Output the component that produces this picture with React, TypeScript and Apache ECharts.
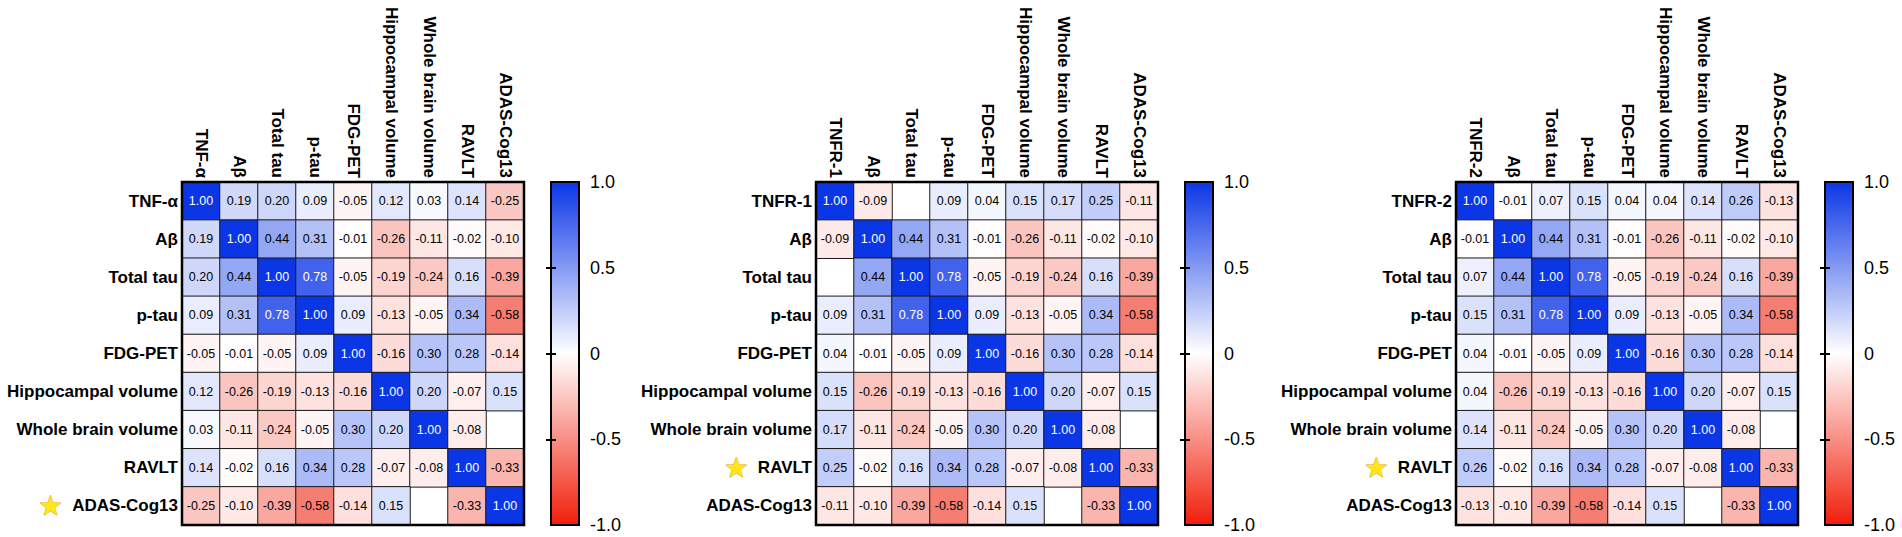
import React, { useEffect, useRef } from "react";
import * as echarts from "echarts";

const cytokines = ["TNF-α", "TNFR-1", "TNFR-2"];
const biomarkers = [
  "Aβ",
  "Total tau",
  "p-tau",
  "FDG-PET",
  "Hippocampal volume",
  "Whole brain volume",
  "RAVLT",
  "ADAS-Cog13",
];
// correlations among the biomarkers (shared by all three panels)
const biomarkerCorr: (number | null)[][] = [
  [1.0, 0.44, 0.31, -0.01, -0.26, -0.11, -0.02, -0.1],
  [0.44, 1.0, 0.78, -0.05, -0.19, -0.24, 0.16, -0.39],
  [0.31, 0.78, 1.0, 0.09, -0.13, -0.05, 0.34, -0.58],
  [-0.01, -0.05, 0.09, 1.0, -0.16, 0.3, 0.28, -0.14],
  [-0.26, -0.19, -0.13, -0.16, 1.0, 0.2, -0.07, 0.15],
  [-0.11, -0.24, -0.05, 0.3, 0.2, 1.0, -0.08, null],
  [-0.02, 0.16, 0.34, 0.28, -0.07, -0.08, 1.0, -0.33],
  [-0.1, -0.39, -0.58, -0.14, 0.15, null, -0.33, 1.0],
];
// correlations of each cytokine with itself + biomarkers
const tnfAlphaCorr: (number | null)[] = [1.0, 0.19, 0.2, 0.09, -0.05, 0.12, 0.03, 0.14, -0.25];
const tnfr1Corr: (number | null)[] = [1.0, -0.09, null, 0.09, 0.04, 0.15, 0.17, 0.25, -0.11];
const tnfr2Corr: (number | null)[] = [1.0, -0.01, 0.07, 0.15, 0.04, 0.04, 0.14, 0.26, -0.13];
const cytokineCorr = [tnfAlphaCorr, tnfr1Corr, tnfr2Corr];
const starredRow = ["ADAS-Cog13", "RAVLT", "RAVLT"];
const colorbarTicks = [-0.5, 0, 0.5];

const FONT = "'Liberation Sans', Arial, sans-serif";
const panelLeft = [182, 816, 1456];
const barLeft = [551, 1185, 1825];
const TOP = 182;
const W = 342;
const H = 343;
const BAR_W = 28;

function buildData(p: number) {
  const labels = [cytokines[p], ...biomarkers];
  const cy = cytokineCorr[p];
  const data: any[] = [];
  for (let i = 0; i < labels.length; i++) {
    for (let j = 0; j < labels.length; j++) {
      let v: number | null;
      if (i === 0) v = cy[j];
      else if (j === 0) v = cy[i];
      else v = biomarkerCorr[i - 1][j - 1];
      if (v === null) continue;
      data.push({
        value: [j, i, v],
        label: { color: v >= 0.6 ? "#ffffff" : "#000000" },
      });
    }
  }
  return { labels, data };
}

export default function App() {
  const ref = useRef<HTMLDivElement>(null);
  useEffect(() => {
    document.body.style.margin = "0";
    const chart = echarts.init(ref.current!, undefined, { renderer: "svg" });
    const grid: any[] = [];
    const xAxis: any[] = [];
    const yAxis: any[] = [];
    const series: any[] = [];
    const visualMap: any[] = [];
    for (let p = 0; p < 3; p++) {
      const { labels, data } = buildData(p);
      const star = starredRow[p];
      const gi = grid.length;
      grid.push({
        left: panelLeft[p],
        top: TOP,
        width: W,
        height: H,
        show: true,
        borderColor: "#000",
        borderWidth: 2.5,
        backgroundColor: "transparent",
        z: 5,
      });
      const xi = xAxis.length;
      xAxis.push({
        type: "category",
        gridIndex: gi,
        data: labels,
        position: "top",
        axisLine: { show: false },
        axisTick: { show: false },
        splitLine: { show: false },
        axisLabel: {
          rotate: 90,
          interval: 0,
          margin: 4,
          color: "#000",
          fontFamily: FONT,
          fontWeight: "bold",
          fontSize: 17,
        },
      });
      const yi = yAxis.length;
      yAxis.push({
        type: "category",
        gridIndex: gi,
        data: labels,
        inverse: true,
        axisLine: { show: false },
        axisTick: { show: false },
        splitLine: { show: false },
        axisLabel: {
          interval: 0,
          margin: 4,
          color: "#000",
          fontFamily: FONT,
          fontWeight: "bold",
          fontSize: 17,
          formatter: (val: string) => (val === star ? `{star|★}  ${val}` : val),
          rich: {
            star: {
              fontFamily: "'DejaVu Sans', sans-serif",
              fontSize: 27,
              color: "#ffe619",
              textBorderColor: "#e0a800",
              textBorderWidth: 1,
              verticalAlign: "middle",
            },
          },
        },
      });
      const si = series.length;
      series.push({
        type: "heatmap",
        xAxisIndex: xi,
        yAxisIndex: yi,
        data,
        itemStyle: { borderColor: "#1a1a1a", borderWidth: 1 },
        label: {
          show: true,
          fontFamily: FONT,
          fontSize: 12.5,
          formatter: (pr: any) => Number(pr.value[2]).toFixed(2),
        },
        emphasis: { disabled: true },
      });
      visualMap.push({
        type: "continuous",
        seriesIndex: si,
        min: -1,
        max: 1,
        dimension: 2,
        calculable: false,
        orient: "vertical",
        left: barLeft[p],
        top: TOP,
        itemWidth: BAR_W,
        itemHeight: H,
        padding: 0,
        inRange: { color: ["#f01e0a", "#ffffff", "#0a36e6"] },
        hoverLink: false,
      });
      // colorbar frame & ticks
      const ci = grid.length;
      grid.push({
        left: barLeft[p],
        top: TOP,
        width: BAR_W,
        height: H,
        show: true,
        borderColor: "#000",
        borderWidth: 2,
        backgroundColor: "transparent",
        z: 10,
      });
      xAxis.push({ type: "value", gridIndex: ci, show: false, min: 0, max: 1 });
      yAxis.push({
        type: "value",
        gridIndex: ci,
        position: "right",
        min: -1,
        max: 1,
        interval: 0.5,
        z: 10,
        axisLine: { show: false },
        splitLine: { show: false },
        axisTick: {
          show: true,
          inside: false,
          length: 5,
          lineStyle: { color: "#000", width: 2 },
          customValues: colorbarTicks,
        },
        axisLabel: {
          margin: 11,
          color: "#000",
          fontFamily: FONT,
          fontSize: 18,
          formatter: (v: number) => (v === 0 ? "0" : v.toFixed(1)),
        },
      });
      yAxis.push({
        type: "value",
        gridIndex: ci,
        position: "left",
        min: -1,
        max: 1,
        interval: 0.5,
        z: 10,
        axisLine: { show: false },
        splitLine: { show: false },
        axisLabel: { show: false },
        axisTick: {
          show: true,
          inside: false,
          length: 5,
          lineStyle: { color: "#000", width: 2 },
          customValues: colorbarTicks,
        },
      });
    }
    chart.setOption({
      animation: false,
      backgroundColor: "#ffffff",
      grid,
      xAxis,
      yAxis,
      visualMap,
      series,
    });
    return () => chart.dispose();
  }, []);
  return <div ref={ref} style={{ width: 1902, height: 537 }} />;
}
